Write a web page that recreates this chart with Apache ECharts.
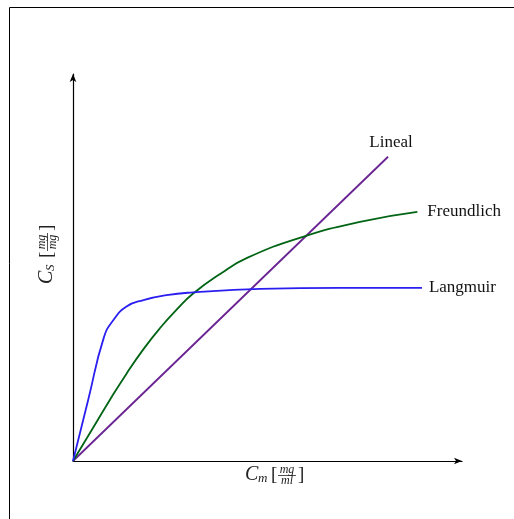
<!DOCTYPE html>
<html>
<head>
<meta charset="utf-8">
<script src="https://cdn.jsdelivr.net/npm/echarts@6/dist/echarts.min.js"></script>
<style>
html, body { margin: 0; padding: 0; background: #fff; }
#main { width: 514px; height: 519px; }
</style>
</head>
<body>
<div id="main"></div>
<script>
// datos (unidades arbitrarias)
var linealX = [0, 8.18];
var linealY = [0, 7.94];
var freundlichX = [0, 0.53, 0.96, 1.39, 1.83, 2.26, 2.69, 3.12, 3.82, 4.52, 5.97, 7.45, 8.94];
var freundlichY = [0, 0.88, 1.60, 2.28, 2.92, 3.47, 3.95, 4.37, 4.88, 5.30, 5.85, 6.24, 6.50];
var langmuirX = [0, 0.40, 0.80, 1.05, 1.39, 1.83, 2.43, 3.12, 4.86, 6.94, 9.06];
var langmuirY = [0, 1.62, 3.22, 3.68, 4.03, 4.20, 4.33, 4.40, 4.49, 4.52, 4.52];

function pares(xs, ys) {
    var out = [];
    for (var i = 0; i < xs.length; i++) out.push([xs[i], ys[i]]);
    return out;
}

var serif = "'Liberation Serif', 'DejaVu Serif', serif";

// etiqueta tipo LaTeX: C_sub [num/den]
function etiqueta(sub, num, den, x, y, rot) {
    return {
        type: 'group',
        x: x, y: y, rotation: rot,
        children: [
            { type: 'text', x: 0, y: 0, style: { text: 'C', font: 'italic 20px ' + serif, fill: '#222', verticalAlign: 'middle' } },
            { type: 'text', x: 13, y: 4, style: { text: sub, font: 'italic 13px ' + serif, fill: '#222', verticalAlign: 'middle' } },
            { type: 'text', x: 26, y: 0, style: { text: '[', font: '19px ' + serif, fill: '#222', verticalAlign: 'middle' } },
            { type: 'text', x: 42, y: -5, style: { text: num, font: 'italic 12px ' + serif, fill: '#222', align: 'center', verticalAlign: 'middle' } },
            { type: 'line', shape: { x1: 33, y1: 0.5, x2: 51, y2: 0.5 }, style: { stroke: '#222', lineWidth: 0.8 } },
            { type: 'text', x: 42, y: 6, style: { text: den, font: 'italic 12px ' + serif, fill: '#222', align: 'center', verticalAlign: 'middle' } },
            { type: 'text', x: 53, y: 0, style: { text: ']', font: '19px ' + serif, fill: '#222', verticalAlign: 'middle' } }
        ]
    };
}

var myChart = echarts.init(document.getElementById('main'));
var ejeLinea = {
    show: true,
    symbol: ['none', 'arrow'],
    symbolSize: [5, 8],
    lineStyle: { color: '#000', width: 1.2 }
};
var option = {
    animation: false,
    backgroundColor: '#fff',
    grid: { left: 73, right: 52, top: 74, bottom: 58 },
    xAxis: {
        type: 'value', min: 0, max: 10.1,
        axisLine: ejeLinea, axisTick: { show: false }, axisLabel: { show: false }, splitLine: { show: false }
    },
    yAxis: {
        type: 'value', min: 0, max: 10.1,
        axisLine: ejeLinea, axisTick: { show: false }, axisLabel: { show: false }, splitLine: { show: false }
    },
    graphic: [
        { type: 'line', shape: { x1: 9.5, y1: 7.5, x2: 520, y2: 7.5 }, style: { stroke: '#000', lineWidth: 1 } },
        { type: 'line', shape: { x1: 9.5, y1: 7.5, x2: 9.5, y2: 530 }, style: { stroke: '#000', lineWidth: 1 } },
        etiqueta('m', 'mg', 'ml', 245, 475, 0),
        etiqueta('S', 'mg', 'mg', 47, 284, Math.PI / 2)
    ],
    series: [
        {
            name: 'Lineal', type: 'line', showSymbol: false,
            data: pares(linealX, linealY),
            lineStyle: { color: '#6a2392', width: 1.8 },
            endLabel: { show: true, formatter: '{a}', color: '#111', fontFamily: serif, fontSize: 17,
                align: 'center', verticalAlign: 'middle', distance: 0, offset: [3, -14] }
        },
        {
            name: 'Freundlich', type: 'line', showSymbol: false, smooth: 0.5,
            data: pares(freundlichX, freundlichY),
            lineStyle: { color: '#006414', width: 1.8 },
            endLabel: { show: true, formatter: '{a}', color: '#111', fontFamily: serif, fontSize: 17, distance: 10 }
        },
        {
            name: 'Langmuir', type: 'line', showSymbol: false, smooth: 0.5,
            data: pares(langmuirX, langmuirY),
            lineStyle: { color: '#2a1ff0', width: 1.8 },
            endLabel: { show: true, formatter: '{a}', color: '#111', fontFamily: serif, fontSize: 17, distance: 7 }
        }
    ]
};
myChart.setOption(option);
</script>
</body>
</html>
